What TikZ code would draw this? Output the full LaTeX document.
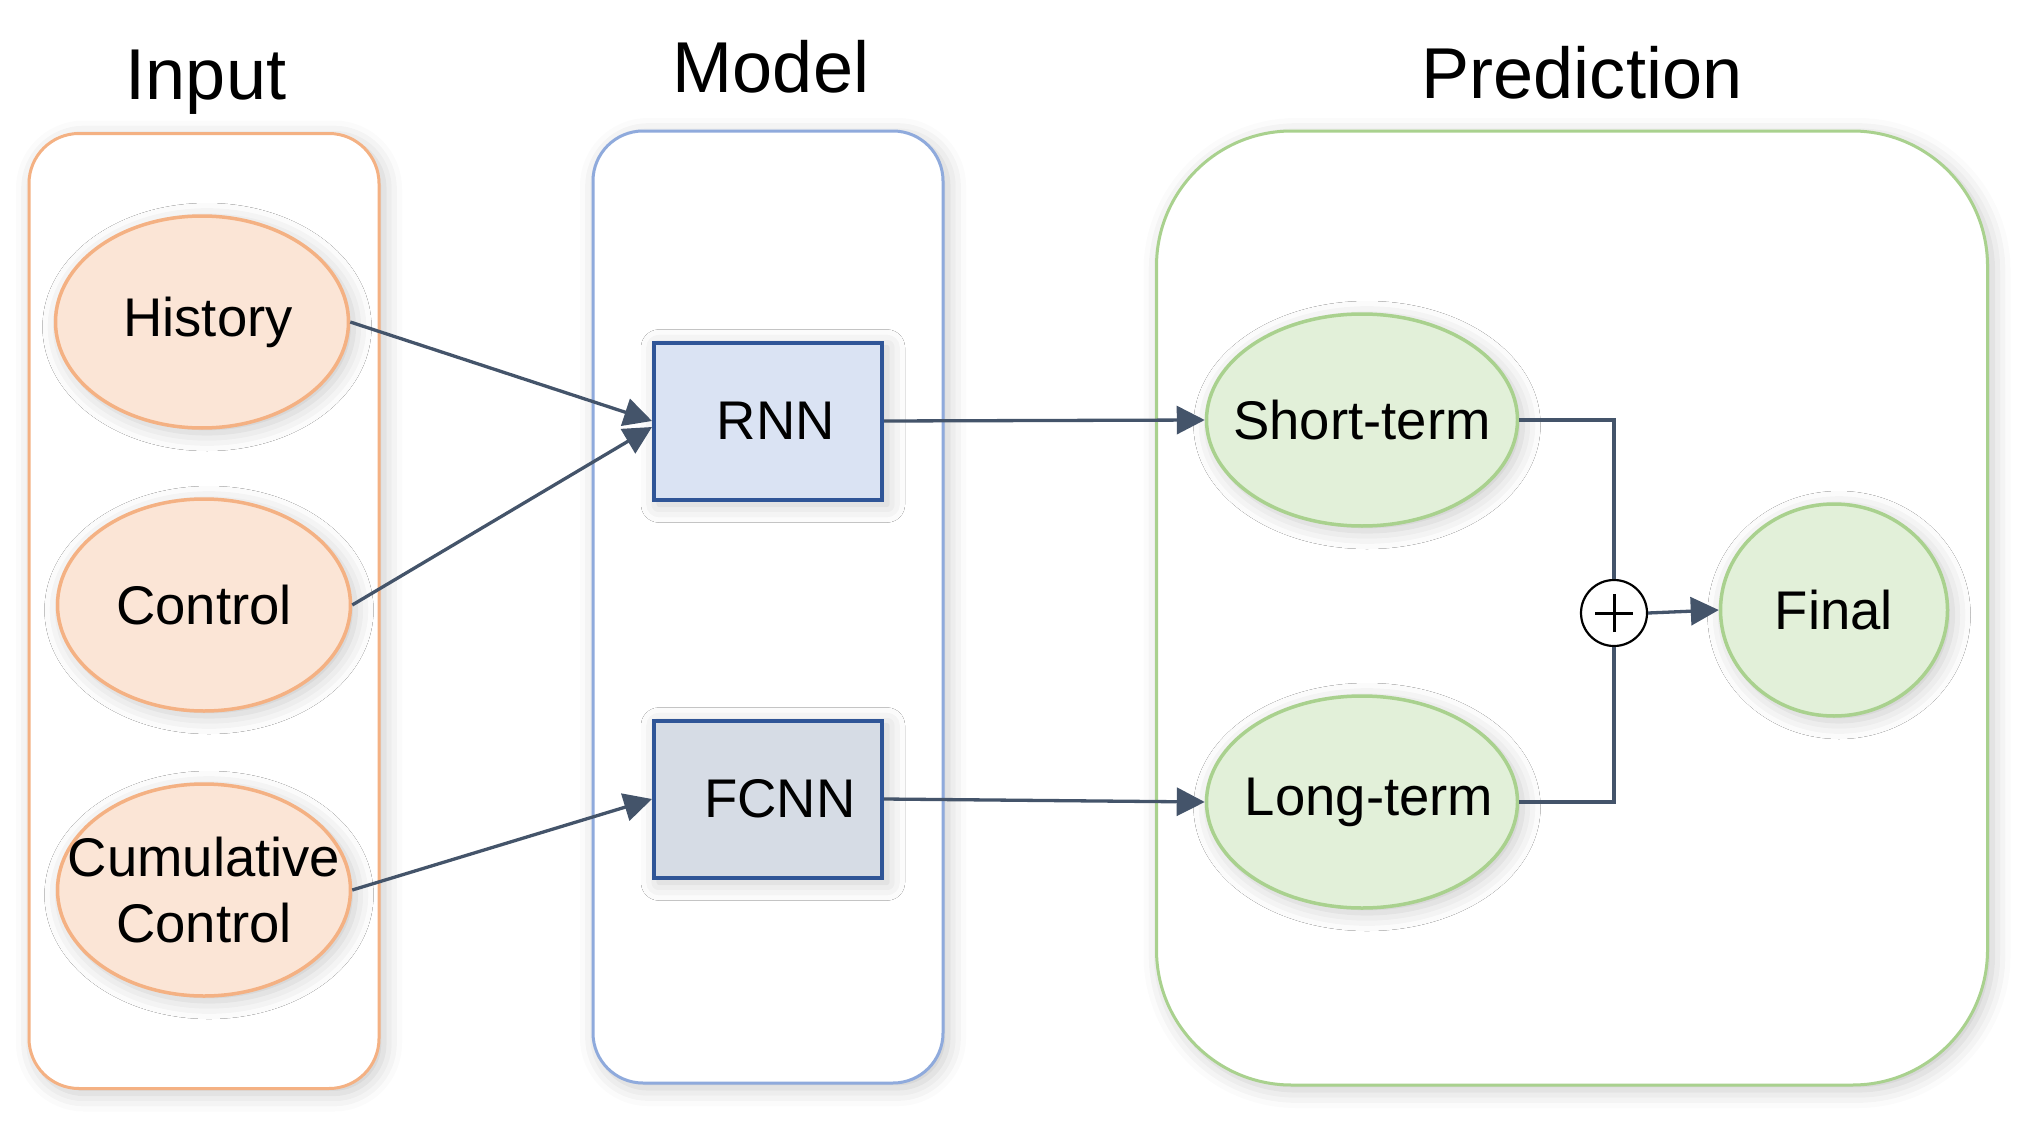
\documentclass[tikz,border=0pt]{standalone}
\usepackage{fontspec}
\setmainfont{Liberation Sans}
\usetikzlibrary{positioning,shapes.geometric,arrows.meta,shadows.blur}
\definecolor{inorange}{HTML}{F4B183}
\definecolor{inorangefill}{HTML}{FBE5D6}
\definecolor{modblue}{HTML}{8FAADC}
\definecolor{netblue}{HTML}{2F5597}
\definecolor{rnnfill}{HTML}{DAE3F3}
\definecolor{fcnnfill}{HTML}{D6DCE5}
\definecolor{predgreen}{HTML}{A9D18E}
\definecolor{predfill}{HTML}{E2F0D9}
\definecolor{arrowgray}{HTML}{44546A}
\begin{document}
\begin{tikzpicture}
      [x=0.1mm, y=-0.1mm,
      soft/.style={blur shadow={shadow xshift=0.5mm, shadow yshift=-0.5mm, shadow blur radius=1.8mm, shadow opacity=22}},
      groupbox/.style={draw, fill=white, line width=0.3mm, inner sep=0pt, soft},
      title/.style={anchor=base, font=\fontsize{20.5}{24}\selectfont},
      blob/.style={ellipse, inner ysep=0pt, inner xsep=-4mm, line width=0.35mm, minimum height=21.2mm, align=center, font=\fontsize{15.5}{19}\selectfont, soft},
      inblob/.style={blob, draw=inorange, fill=inorangefill, minimum width=29.3mm},
      outblob/.style={blob, draw=predgreen, fill=predfill},
      netbox/.style={draw=netblue, line width=0.4mm, inner sep=0pt, minimum width=22.8mm, minimum height=15.7mm, font=\fontsize{15.5}{19}\selectfont, soft},
      arr/.style={draw=arrowgray, line width=0.33mm, -{Triangle[length=2.8mm, width=2.8mm]}},
      link/.style={draw=arrowgray, line width=0.33mm},
      ]
      \useasboundingbox (0,0) rectangle (2022,1125);

      % group frames
      \node[groupbox, draw=inorange, rounded corners=5mm, minimum width=35mm, minimum height=95.5mm] (inbox) at (204,611) {};
      \node[groupbox, draw=modblue, rounded corners=5mm, minimum width=35mm, minimum height=95.2mm] (modbox) at (768,607) {};
      \node[groupbox, draw=predgreen, rounded corners=13.5mm, minimum width=83.1mm, minimum height=95.4mm] (predbox) at (1572,608) {};
      \node[title] (intitle) at (206,100) {Input};
      \node[title] (modtitle) at (771,93) {Model};
      \node[title] (predtitle) at (1582,99) {Prediction};

      % inputs
      \node[inblob] (hist) at (202,322) {\hspace{1.2mm}History};
      \node[inblob] (ctrl) at (204,605) {Control};
      \node[inblob] (cum) at (204,890) {Cumulative\\Control};

      % models
      \node[netbox, fill=rnnfill] (rnn) at (768,421) {\hspace{1.6mm}RNN};
      \node[netbox, fill=fcnnfill] (fcnn) at (768,799) {\hspace{2.4mm}FCNN};

      % predictions
      \node[outblob, minimum width=31.1mm] (short) at (1362,420) {Short-term};
      \node[outblob, minimum width=31.1mm] (long) at (1362,802) {\hspace{1.4mm}Long-term};
      \node[outblob, minimum width=22.7mm] (final) at (1834,610) {Final};
      \node[circle, draw=black, fill=white, line width=0.22mm, minimum size=6.6mm, inner sep=0pt,
        path picture={\draw[line width=0.3mm] ([xshift=-1.9mm]path picture bounding box.center) -- ([xshift=1.9mm]path picture bounding box.center)
          ([yshift=-1.9mm]path picture bounding box.center) -- ([yshift=1.9mm]path picture bounding box.center);}] (plus) at (1614,613) {};

      % connectors
      \draw[arr] (hist.east) -- (rnn.west);
      \draw[arr] (ctrl.east) -- ([yshift=-0.6mm]rnn.west);
      \draw[arr] (cum.east) -- (fcnn.west);
      \draw[arr] (rnn.east) -- (short.west);
      \draw[arr] (fcnn.east) -- (long.west);
      \draw[link] (short.east) -| (plus.north);
      \draw[link] (long.east) -| (plus.south);
      \draw[arr] (plus.east) -- (final.west);
      \end{tikzpicture}
\end{document}
